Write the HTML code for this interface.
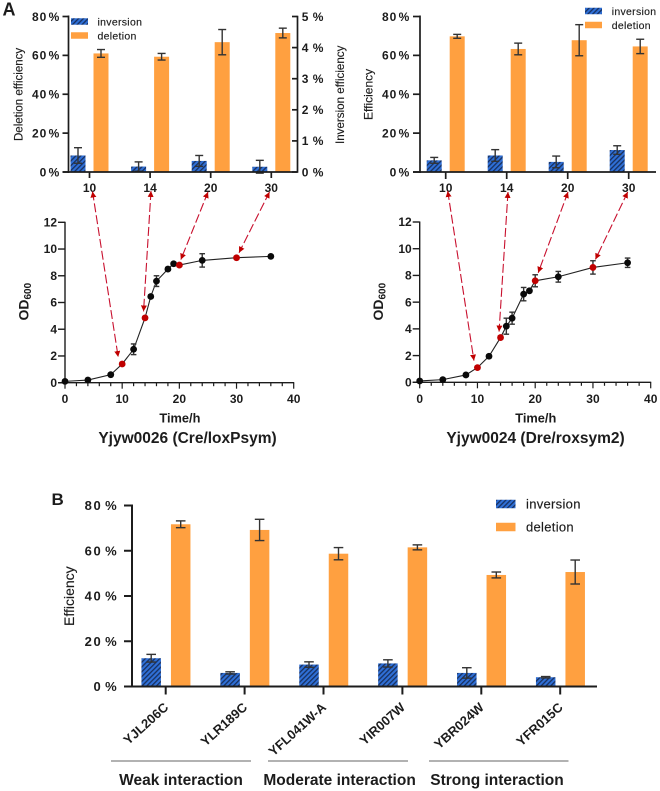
<!DOCTYPE html>
<html><head><meta charset="utf-8"><title>Efficiency charts</title>
<style>
html,body{margin:0;padding:0;background:#fff}
svg{display:block;font-family:"Liberation Sans",Arial,sans-serif;filter:blur(0.35px)}
text{fill:#1c1c1c}
</style></head>
<body>
<svg id="fig" xmlns="http://www.w3.org/2000/svg" width="660" height="791" viewBox="0 0 660 791">
<defs>
<pattern id="hatch" patternUnits="userSpaceOnUse" width="3.4" height="3.4" patternTransform="rotate(45)">
<rect width="3.4" height="3.4" fill="#2f6fd6"/><rect width="1.3" height="3.4" fill="#17305f"/>
</pattern>
<marker id="ah" markerWidth="7" markerHeight="7" refX="6" refY="3" orient="auto-start-reverse" markerUnits="userSpaceOnUse"><path d="M0,0 L6,3 L0,6 Z" fill="#c00000"/></marker>
</defs>
</svg>
<script>
const NS='http://www.w3.org/2000/svg';
const svg=document.getElementById('fig');

// Panel A timepoint categories
const timeLabels=['10','14','20','30'];
// Panel A left bars (Cre/loxPsym)
const creInversion=[8.5,2.8,5.7,2.7];
const creInversionErr=[4,2.4,2.8,3.3];
const creDeletion=[61,59.3,66.8,71.5];
const creDeletionErr=[2,1.7,6.5,2.5];
// Panel A right bars (Dre/roxsym2)
const dreInversion=[6,8.5,5.2,11.3];
const dreInversionErr=[1.5,3,3,2.2];
const dreDeletion=[69.8,63.3,67.8,64.6];
const dreDeletionErr=[1,3,8,3.7];
// Growth curves
const hours=[0,4,8,10,12,14,15,16,18,19,20,24,30,36];
const creOD=[0.1,0.2,0.6,1.4,2.5,4.85,6.45,7.6,8.5,8.9,8.8,9.15,9.35,9.45];
const creODErr=[0.1,0.05,0.1,0.1,0.4,0.1,0.1,0.4,0.1,0.1,0.1,0.5,0.1,0.1];
const dreOD=[0.1,0.2,0.55,1.1,1.95,3.35,4.2,4.8,6.6,6.85,7.6,7.9,8.6,8.95];
const dreODErr=[0.1,0.1,0.1,0.1,0.1,0.1,0.6,0.45,0.5,0.1,0.45,0.4,0.5,0.35];
const sampledHours=[10,14,20,30];
// Panel B
const genes=['YJL206C','YLR189C','YFL041W-A','YIR007W','YBR024W','YFR015C'];
const geneInversion=[12.5,6,9.7,10.2,6,4.1];
const geneInversionErr=[1.7,0.5,1.2,1.6,2.3,0.3];
const geneDeletion=[71.7,69.2,58.7,61.5,49.3,50.6];
const geneDeletionErr=[1.5,4.7,2.7,1.1,1.3,5.3];
// Tick labels
const effTicks=[0,20,40,60,80];
const invTicks=[0,1,2,3,4,5];
const odTicks=[0,2,4,6,8,10,12];
const timeTicks=[0,10,20,30,40];

function mk(tag,name,attrs,parent,txt){
  const el=document.createElementNS(NS,tag);
  
  
  for(const k in attrs)el.setAttribute(k,attrs[k]);
  if(txt!==undefined)el.textContent=txt;
  (parent||svg).appendChild(el);
  return el;
}
function line(name,x1,y1,x2,y2,w,c,p){return mk('line',name,{x1,y1,x2,y2,'stroke-width':w,stroke:c||'#1c1c1c'},p);}
function label(name,x,y,t,size,anchor,extra,p){
  return mk('text',name,Object.assign({x,y,'font-size':size,'font-weight':'bold','text-anchor':anchor||'middle'},extra||{}),p,t);
}
function vtitle(name,x,y,t,size,p){
  return label(name,x,y,t,size,'start',{transform:'rotate(-90 '+x+' '+y+')','font-weight':'normal','stroke':'#1c1c1c','stroke-width':0.15},p);
}
function errBar(name,x,yTop,yBot,cap,p){
  line(name+'-stem',x,yTop,x,yBot,1.4,'#333',p);
  line(name+'-cap-top',x-cap,yTop,x+cap,yTop,1.4,'#333',p);
  line(name+'-cap-bottom',x-cap,yBot,x+cap,yBot,1.4,'#333',p);
}
function legend(g,x,y1,y2,w,h,tx,size){
  mk('rect','legend-inversion-swatch',{x,y:y1-h/2,width:w,height:h,fill:'url(#hatch)'},g);
  label('legend-inversion-label',tx,y1+size*0.36,'inversion',size,'start',{'font-weight':'normal','letter-spacing':'0.3','stroke':'#1c1c1c','stroke-width':0.15},g);
  mk('rect','legend-deletion-swatch',{x,y:y2-h/2,width:w,height:h,fill:'#ffa040'},g);
  label('legend-deletion-label',tx,y2+size*0.36,'deletion',size,'start',{'font-weight':'normal','letter-spacing':'0.3','stroke':'#1c1c1c','stroke-width':0.15},g);
}

function barChart(o){
  const g=mk('g',o.name,{});
  const yS=v=>o.y0+(o.y80-o.y0)*v/80;
  const tickX=i=>o.tick0+o.tickStep*i;
  o.cats.forEach((c,i)=>{
    const xi=tickX(i)+o.offI, xd=tickX(i)+o.offD;
    mk('rect','inversion-bar-'+c,{x:xi-o.bw/2,y:yS(o.inv[i]),width:o.bw,height:o.y0-yS(o.inv[i]),fill:'url(#hatch)'},g);
    mk('rect','deletion-bar-'+c,{x:xd-o.bw/2,y:yS(o.del[i]),width:o.bw,height:o.y0-yS(o.del[i]),fill:'#ffa040'},g);
    errBar('inversion-error-'+c,xi,yS(o.inv[i]+o.invE[i]),yS(o.inv[i]-o.invE[i]),o.cap,g);
    errBar('deletion-error-'+c,xd,yS(o.del[i]+o.delE[i]),yS(o.del[i]-o.delE[i]),o.cap,g);
    line('x-tick-'+c,tickX(i),o.y0,tickX(i),o.y0+o.tl,o.aw,null,g);
    if(o.rotate){
      const lx=tickX(i)+3.5, ly=o.y0+22;
      label('x-label-'+c,lx,ly,c,o.xfs,'end',{transform:'rotate(-42 '+lx+' '+ly+')'},g);
    }else{
      label('x-label-'+c,tickX(i),o.y0+20,c,o.xfs,'middle',{},g);
    }
  });
  line('y-axis',o.ax,o.y80-1,o.ax,o.y0+1,o.aw,null,g);
  line('x-axis',o.ax-o.tl,o.y0,o.xEnd,o.y0,o.aw,null,g);
  effTicks.forEach(t=>{
    line('y-tick-'+t,o.ax-o.tl,yS(t),o.ax,yS(t),o.aw,null,g);
    label('y-label-'+t,o.ax-o.tl-o.lg,yS(t)+o.yfs*0.36,t+' %',o.yfs,'end',{'letter-spacing':o.ls,'word-spacing':o.ws},g);
  });
  return g;
}

const gA1=barChart({name:'cre-bar-chart',cats:timeLabels,inv:creInversion,invE:creInversionErr,del:creDeletion,delE:creDeletionErr,y0:172,y80:16.5,ax:68.5,xEnd:297.5,tick0:89.5,tickStep:60.6,offI:-11.5,offD:11.5,bw:15,cap:4,tl:6,aw:1.7,lg:2.2,yfs:12,xfs:12,ls:1,ws:-3});
// right inversion axis for the left chart
const invY=v=>172+(16.5-172)*v/5;
line('right-y-axis',297.5,15.7,297.5,172.8,1.7,null,gA1);
invTicks.forEach(t=>{
  line('right-y-tick-'+t,292,invY(t),297.5,invY(t),1.7,null,gA1);
  label('right-y-label-'+t,301.7,invY(t)+4.3,t+' %',12,'start',{'letter-spacing':1,'word-spacing':-1},gA1);
});
vtitle('left-y-axis-title',22.7,141,'Deletion efficiency',11.5,gA1);
vtitle('right-y-axis-title',344,144,'Inversion efficiency',11.6,gA1);
legend(gA1,71,21.5,35.5,17,6.5,97.5,10.5);

const gA2=barChart({name:'dre-bar-chart',cats:timeLabels,inv:dreInversion,invE:dreInversionErr,del:dreDeletion,delE:dreDeletionErr,y0:172,y80:16.5,ax:420,xEnd:656,tick0:445.7,tickStep:61,offI:-11.5,offD:11.5,bw:15,cap:4,tl:7,aw:1.7,lg:2.7,yfs:12,xfs:12,ls:1,ws:-3});
vtitle('efficiency-y-axis-title',372.7,120,'Efficiency',12,gA2);
legend(gA2,585,11,25,17,6.5,611.7,10.5);

function curve(o){
  const g=mk('g',o.name,{});
  const xS=t=>o.x0+(o.x40-o.x0)*t/40, yS=v=>o.y0+(o.y12-o.y0)*v/12;
  const pts=hours.map((h,i)=>xS(h)+','+yS(o.od[i])).join(' ');
  mk('polyline',o.name+'-line',{points:pts,fill:'none',stroke:'#222','stroke-width':1.1},g);
  line('y-axis',o.x0,o.y12-0.5,o.x0,o.y0+0.5,1.4,null,g);
  line('x-axis',o.x0-7,o.y0,o.x40+0.5,o.y0,1.4,null,g);
  odTicks.forEach(t=>{
    line('y-tick-'+t,o.x0-7,yS(t),o.x0,yS(t),1.4,null,g);
    label('y-label-'+t,o.x0-8,yS(t)+4.2,t,12,'end',{},g);
  });
  for(let t=0;t<=40;t+=2){
    const major=t%10===0;
    line('x-tick-'+t,xS(t),o.y0,xS(t),o.y0+(major?6:3.5),1.2,null,g);
  }
  timeTicks.forEach(t=>label('x-label-'+t,xS(t),o.y0+20.5,t,12,'middle',{},g));
  hours.forEach((h,i)=>{
    errBar('point-error-'+h,xS(h),yS(o.od[i]+o.err[i]),yS(o.od[i]-o.err[i]),2.8,g);
    const red=sampledHours.includes(h);
    mk('circle','point-'+h+'h',{cx:xS(h),cy:yS(o.od[i]),r:3.4,fill:red?'#c00000':'#0a0a0a'},g);
  });
  label('x-axis-title',xS(20.1),o.y0+40,'Time/h',12.8,'middle',{},g);
  const tx=o.x0-36.5, tyy=320.5;
  const ty=mk('text','y-axis-title',{x:tx,y:tyy,'font-size':14,'font-weight':'bold','text-anchor':'start',transform:'rotate(-90 '+tx+' '+tyy+')'},g);
  ty.textContent='OD';
  mk('tspan','y-axis-title-subscript',{dy:2.5,'font-size':10},ty,'600');
  label('strain-title',o.titleX,o.y0+60.5,o.title,15.5,'middle',{},g);
  return {g,xS,yS};
}
const c1=curve({name:'cre-growth-curve',od:creOD,err:creODErr,x0:65,x40:293.7,y0:382.7,y12:222.3,title:'Yjyw0026 (Cre/loxPsym)',titleX:187.5});
const c2=curve({name:'dre-growth-curve',od:dreOD,err:dreODErr,x0:419.7,x40:650.7,y0:382.3,y12:222,title:'Yjyw0024 (Dre/roxsym2)',titleX:535.5});

function arrow(name,x1,y1,t,od,c,dx,dy){
  mk('line',name,{x1,y1,x2:c.xS(t)+dx,y2:c.yS(od)+dy,stroke:'#c8102e','stroke-width':1.1,'stroke-dasharray':'9 3','marker-start':'url(#ah)','marker-end':'url(#ah)'});
}
arrow('arrow-10h-cre',92.5,191.5,10,creOD[3],c1,-4,-7);
arrow('arrow-14h-cre',151,191,14,creOD[5],c1,-1.5,-6.5);
arrow('arrow-20h-cre',208,192,20,creOD[10],c1,1.5,-5.5);
arrow('arrow-30h-cre',269.5,192,30,creOD[12],c1,2.5,-5);
arrow('arrow-10h-dre',447.7,191,10,dreOD[3],c2,-3.5,-7);
arrow('arrow-14h-dre',508,192,14,dreOD[5],c2,-1.5,-6);
arrow('arrow-20h-dre',568,192,20,dreOD[10],c2,3,-8);
arrow('arrow-30h-dre',627.7,192,30,dreOD[12],c2,2.5,-8);

const gB=barChart({name:'gene-bar-chart',cats:genes,inv:geneInversion,invE:geneInversionErr,del:geneDeletion,delE:geneDeletionErr,y0:686.5,y80:505.5,ax:132,xEnd:597,tick0:165.7,tickStep:78.9,offI:-14.5,offD:15,bw:19.5,cap:4.8,tl:8,aw:2,lg:5.7,yfs:13,xfs:13,rotate:true,ls:1.6,ws:-2.4});
vtitle('efficiency-y-axis-title-b',74,626,'Efficiency',14,gB);
legend(gB,496,504,527,19.5,8.5,526,13);

const groupNames=['Weak interaction','Moderate interaction','Strong interaction'];
const groupX=[[111,251],[268,408],[429,568.5]];
const groupText=[181,339.6,497];
groupNames.forEach((n,i)=>{
  line('group-line-'+i,groupX[i][0],761,groupX[i][1],761,1,'#666',gB);
  label('group-label-'+i,groupText[i],785,n,15.5,'middle',{},gB);
});

label('panel-a-label',2.5,15.5,'A',18,'start');
label('panel-b-label',51.5,505,'B',17,'start');
</script>
</body></html>
